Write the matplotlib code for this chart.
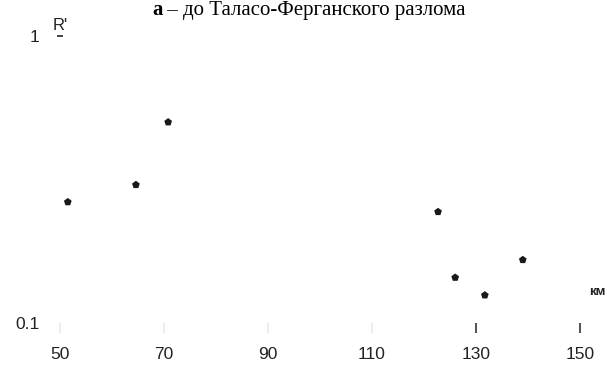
import matplotlib
matplotlib.use("Agg")
import matplotlib.pyplot as plt

# Data
distance_km = [51.5, 64.6, 70.8, 122.7, 126.0, 131.7, 139.0]
r_values = [0.264, 0.303, 0.501, 0.244, 0.144, 0.125, 0.166]
x_ticks = [50, 70, 90, 110, 130, 150]
x_tick_labels = ["50", "70", "90", "110", "130", "150"]
x_tick_colors = ["#e8e8e8", "#e8e8e8", "#e8e8e8", "#e8e8e8", "#333333", "#333333"]
y_ticks = [0.1, 1]
y_tick_labels = ["0.1", "1"]
title_bold = "а"
title_rest = " – до Таласо-Ферганского разлома"

W, H = 607, 366
fig = plt.figure(figsize=(W / 100, H / 100), dpi=100)
left, right = 60 / W, 580 / W
bottom, top = 1 - 323 / H, 1 - 36 / H
ax = fig.add_axes([left, bottom, right - left, top - bottom])

ax.scatter(distance_km, r_values, s=34, marker="p", color="#1a1a1a", edgecolors="none", zorder=3)

ax.set_yscale("log")
ax.set_xlim(50, 150)
ax.set_ylim(0.1, 1)
for s in ax.spines.values():
    s.set_visible(False)

sans = ["Liberation Sans", "DejaVu Sans"]
ax.set_xticks(x_ticks)
ax.set_xticklabels(x_tick_labels, fontsize=12.5, family=sans, color="#222222")
ax.set_yticks(y_ticks)
ax.set_yticklabels(y_tick_labels, fontsize=12.5, family=sans, color="#222222")
ax.yaxis.set_minor_locator(matplotlib.ticker.NullLocator())
ax.tick_params(axis="x", length=0, pad=17)
ax.tick_params(axis="y", length=0, pad=15)

# x tick marks (some faint, as in the scan)
shift = matplotlib.transforms.ScaledTranslation(0, -5 / 100, fig.dpi_scale_trans)
for xv, c in zip(x_ticks, x_tick_colors):
    ax.plot([xv], [0.0], marker="|", markersize=7, markeredgewidth=1.2, color=c,
            transform=ax.get_xaxis_transform() + shift, clip_on=False)

# small tick mark under R'
ax.plot([0.0], [1.0], marker="_", markersize=5, markeredgewidth=1.3, color="#333333",
        transform=ax.get_yaxis_transform(), clip_on=False)

ax.text(0.0, 1.0, "R'", transform=ax.get_yaxis_transform() + matplotlib.transforms.ScaledTranslation(0, 3 / 100, fig.dpi_scale_trans),
        fontsize=12, family=sans, ha="center", va="bottom", color="#222222")
ax.text(597 / W, 1 - 292 / H, "км", transform=fig.transFigure, fontsize=9.5, family=sans,
        fontweight="bold", ha="center", va="center", color="#222222")

serif = ["Liberation Serif", "DejaVu Serif"]
fs_title = 15
ty = 1 - 15 / H
t1 = fig.text(309 / W, ty, title_bold + title_rest, fontsize=fs_title, family=serif,
              ha="center", va="baseline", color="black")
renderer = fig.canvas.get_renderer()
bb = t1.get_window_extent(renderer)
t1.set_text(title_rest)
bb2 = t1.get_window_extent(renderer)
t1.set_position(((bb.x1 - bb2.width / 2) / W, ty))
fig.text(bb.x0 / W, ty, title_bold, fontsize=fs_title, family=serif, fontweight="bold",
         ha="left", va="baseline", color="black")

fig.savefig("out.png", dpi=100)
